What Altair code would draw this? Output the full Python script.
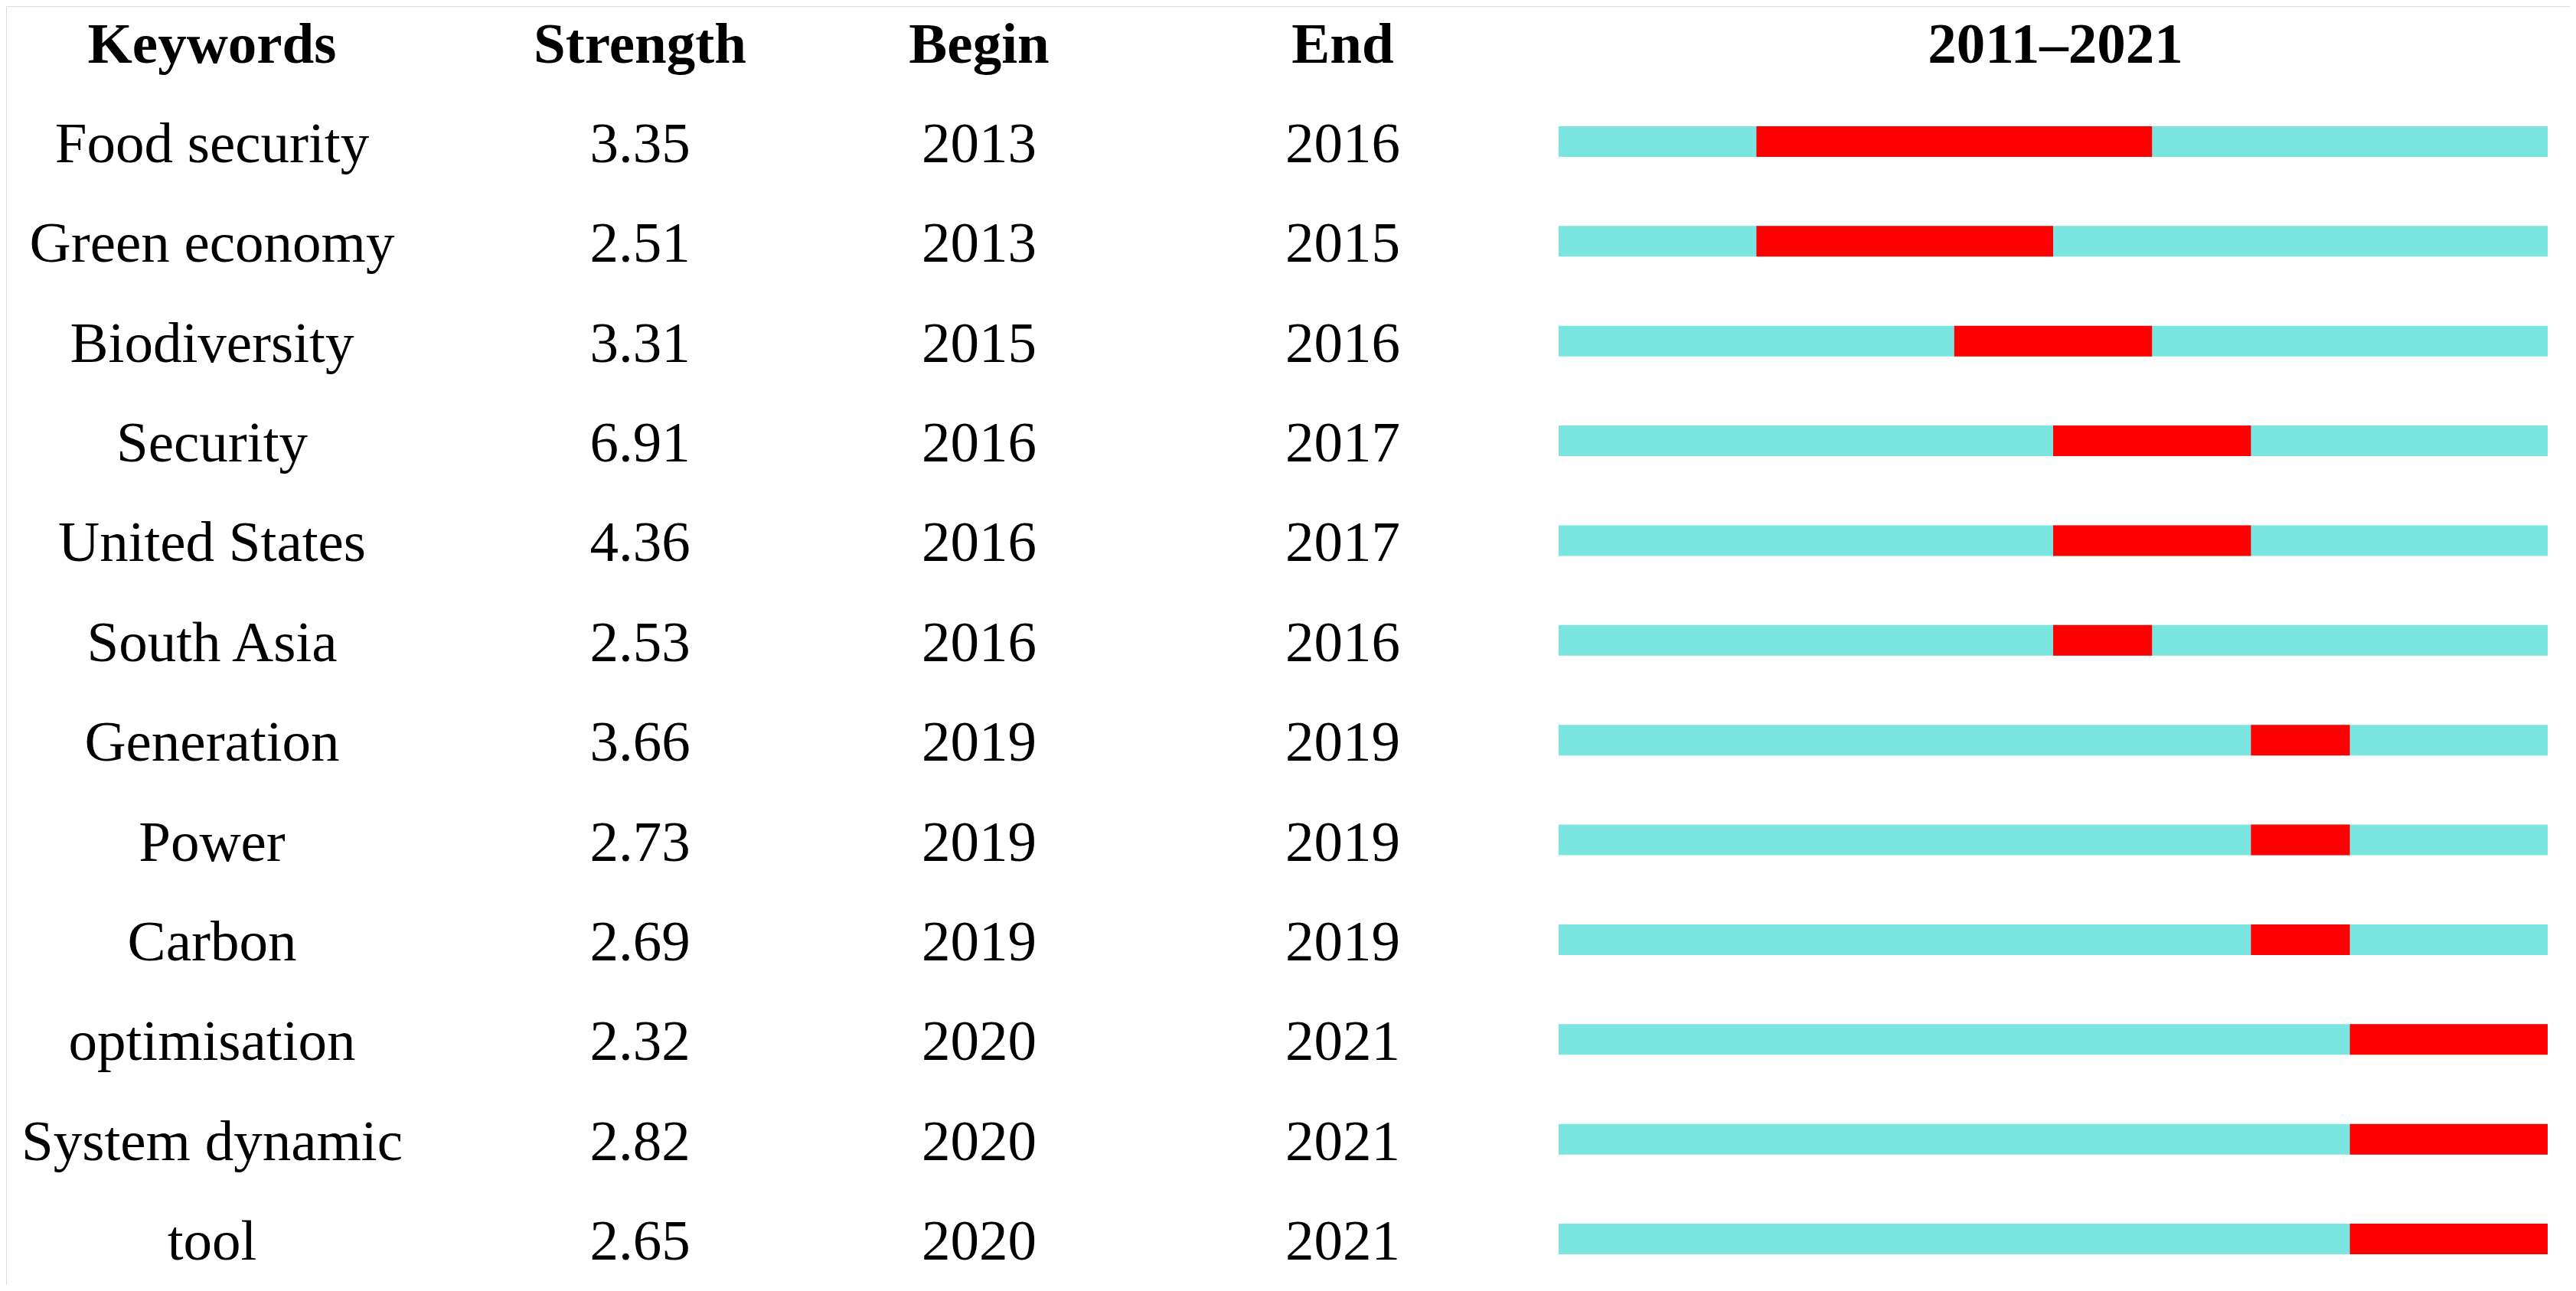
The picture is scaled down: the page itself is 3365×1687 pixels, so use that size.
import altair as alt
import pandas as pd

keywords = ["Food security", "Green economy", "Biodiversity", "Security", "United States",
            "South Asia", "Generation", "Power", "Carbon", "optimisation", "System dynamic", "tool"]
strength = [3.35, 2.51, 3.31, 6.91, 4.36, 2.53, 3.66, 2.73, 2.69, 2.32, 2.82, 2.65]
begin = [2013, 2013, 2015, 2016, 2016, 2016, 2019, 2019, 2019, 2020, 2020, 2020]
end = [2016, 2015, 2016, 2017, 2017, 2016, 2019, 2019, 2019, 2021, 2021, 2021]
# burst segments as drawn on the timeline (year edges)
bar_start = [2013, 2013, 2015, 2016, 2016, 2016, 2018, 2018, 2018, 2019, 2019, 2019]
bar_end = [2017, 2016, 2017, 2018, 2018, 2017, 2019, 2019, 2019, 2021, 2021, 2021]
timeline_start = 2011
timeline_end = 2021

headers = ["Keywords", "Strength", "Begin", "End", "2011\u20132021"]

rows = ["header"] + keywords

df = pd.DataFrame({
    "row": keywords,
    "strength": [f"{s:.2f}" for s in strength],
    "begin": [str(b) for b in begin],
    "end": [str(e) for e in end],
    "bs": bar_start,
    "be": bar_end,
    "ts": [timeline_start] * len(keywords),
    "te": [timeline_end] * len(keywords),
})

FONT = "Liberation Serif"
FS = 75
DY = 27

yenc = alt.Y("row:N", sort=rows,
             scale=alt.Scale(type="point", domain=rows, range=[46.6, 1611], padding=0),
             axis=None)
xscale = alt.Scale(domain=[timeline_start, timeline_end], range=[2028, 3320], nice=False, zero=False)

base = alt.Chart(df)

bg = base.mark_bar(height=40, color="#7be6e1").encode(
    x=alt.X("ts:Q", scale=xscale, axis=None), x2="te:Q", y=yenc)
burst = base.mark_bar(height=40, color="#ff0000").encode(
    x=alt.X("bs:Q", scale=xscale, axis=None), x2="be:Q", y=yenc)

col_x = [269, 828, 1271, 1746, 2677]
fields = ["row", "strength", "begin", "end"]

layers = [bg, burst]
for f, cx in zip(fields, col_x[:4]):
    layers.append(base.mark_text(font=FONT, fontSize=FS, baseline="alphabetic", dy=DY,
                                 align="center", color="black").encode(
        x=alt.value(cx), y=yenc, text=f"{f}:N"))

for h, cx in zip(headers, col_x):
    hdf = pd.DataFrame({"row": ["header"], "label": [h]})
    layers.append(alt.Chart(hdf).mark_text(font=FONT, fontSize=FS, fontWeight="bold",
                                            baseline="alphabetic", dy=DY, align="center",
                                            color="black").encode(
        x=alt.value(cx), y=yenc, text="label:N"))

chart = alt.layer(*layers).properties(
    width=3349, height=1671, padding=0, autosize=alt.AutoSizeParams(type="none")
).configure_view(stroke=None).configure(background="white")

chart.save("out.html", embed_options={"renderer": "svg", "actions": False})
